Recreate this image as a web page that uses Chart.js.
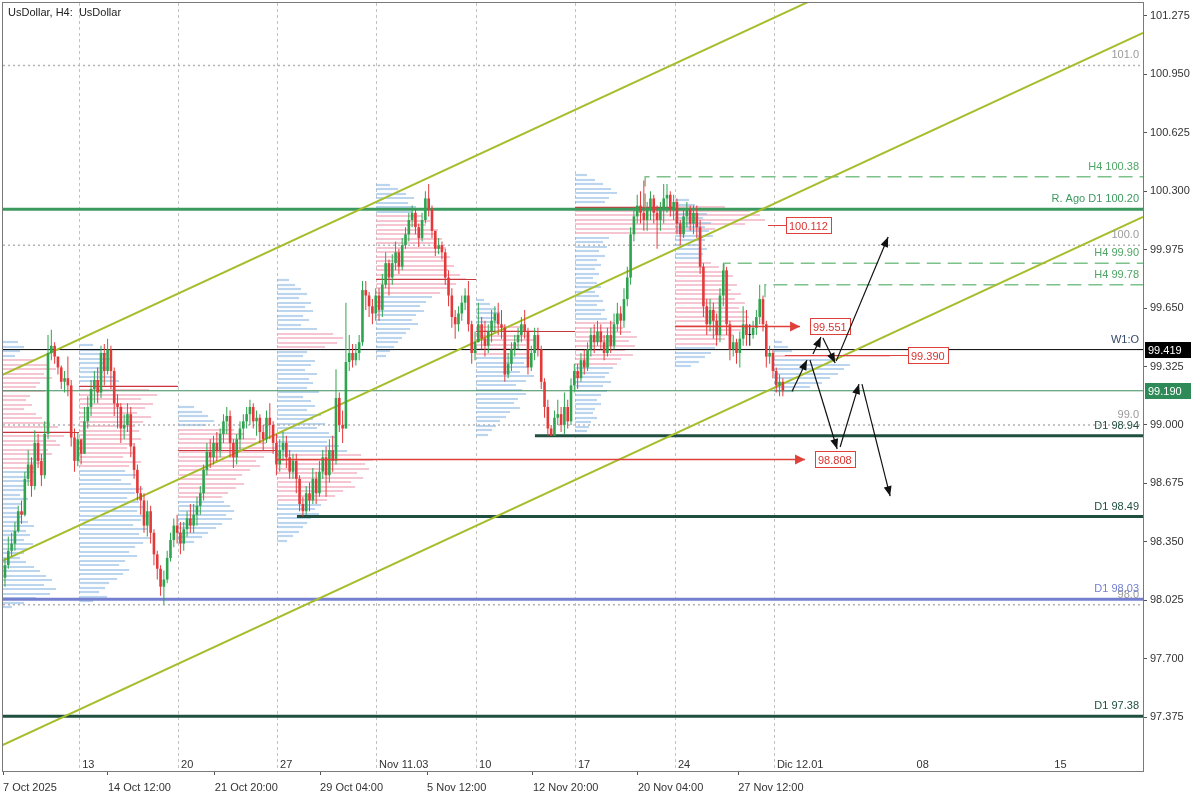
<!DOCTYPE html>
<html>
<head>
<meta charset="utf-8">
<title>UsDollar, H4</title>
<script src="https://cdn.jsdelivr.net/npm/chart.js@4.4.1/dist/chart.umd.min.js"></script>
<style>
  html, body { margin: 0; padding: 0; background: #fff; }
  canvas { display: block; background: #fff; }
</style>
</head>
<body>
<canvas id="chart" width="1200" height="800"></canvas>
<script>
// H4 candles, one entry per bar (open of a bar = close of the one before)
var firstOpen = 98.15;
var closes = [
  98.22, 98.30, 98.34, 98.41, 98.52, 98.50, 98.70, 98.78, 98.66, 98.90,
  98.80, 98.72, 98.95, 99.40, 99.44, 99.38, 99.32, 99.24, 99.26, 99.22,
  98.93, 98.80, 98.92, 98.84, 99.02, 99.10, 99.20, 99.25, 99.18, 99.40,
  99.30, 99.42, 99.30, 99.12, 99.10, 98.98, 99.00, 99.06, 98.88, 98.75,
  98.62, 98.58, 98.44, 98.52, 98.40, 98.28, 98.20, 98.10, 98.14, 98.26,
  98.36, 98.44, 98.40, 98.34, 98.42, 98.48, 98.44, 98.50, 98.55, 98.62,
  98.75, 98.85, 98.82, 98.90, 98.86, 98.95, 99.02, 99.05, 98.90, 98.82,
  98.92, 98.98, 99.02, 99.06, 99.10, 99.02, 99.04, 98.96, 98.92, 99.04,
  99.00, 98.90, 98.78, 98.86, 98.90, 98.82, 98.74, 98.80, 98.70, 98.56,
  98.52, 98.62, 98.58, 98.70, 98.62, 98.74, 98.82, 98.72, 98.86, 98.80,
  99.15, 99.00, 98.98, 99.35, 99.40, 99.36, 99.40, 99.46, 99.75, 99.72,
  99.66, 99.62, 99.72, 99.64, 99.78, 99.90, 99.82, 99.90, 99.96, 99.88,
  100.00, 100.06, 100.14, 100.18, 100.10, 100.04, 100.14, 100.26, 100.20, 100.08,
  99.98, 100.00, 99.96, 99.82, 99.72, 99.60, 99.56, 99.62, 99.68, 99.72,
  99.56, 99.40, 99.46, 99.56, 99.48, 99.44, 99.52, 99.58, 99.62, 99.56,
  99.54, 99.28, 99.34, 99.42, 99.46, 99.50, 99.56, 99.52, 99.32, 99.40,
  99.50, 99.42, 99.24, 99.10, 98.98, 98.94, 99.04, 99.06, 99.00, 99.10,
  99.02, 99.22, 99.30, 99.26, 99.36, 99.32, 99.42, 99.50, 99.46, 99.52,
  99.46, 99.40, 99.50, 99.44, 99.56, 99.62, 99.58, 99.70, 99.82, 100.06,
  100.16, 100.22, 100.18, 100.14, 100.20, 100.26, 100.18, 100.14, 100.20, 100.26,
  100.28, 100.20, 100.24, 100.12, 100.06, 100.16, 100.20, 100.12, 100.18, 100.10,
  99.88, 99.66, 99.56, 99.64, 99.58, 99.50, 99.72, 99.86, 99.56, 99.42,
  99.46, 99.40, 99.48, 99.56, 99.50, 99.50, 99.54, 99.60, 99.70, 99.56,
  99.38, 99.40, 99.30, 99.22, 99.24, 99.19
];
var highs = [
  98.26, 98.38, 98.40, 98.46, 98.55, 98.58, 98.74, 98.86, 98.82, 98.97,
  98.95, 98.84, 99.02, 99.50, 99.53, 99.46, 99.38, 99.33, 99.30, 99.38,
  99.25, 98.98, 98.96, 98.90, 99.10, 99.16, 99.25, 99.30, 99.32, 99.44,
  99.45, 99.48, 99.44, 99.32, 99.17, 99.12, 99.06, 99.12, 99.10, 98.90,
  98.78, 98.66, 98.62, 98.58, 98.55, 98.42, 98.30, 98.22, 98.19, 98.30,
  98.40, 98.48, 98.50, 98.46, 98.46, 98.52, 98.56, 98.56, 98.60, 98.66,
  98.78, 98.90, 98.92, 98.94, 98.96, 98.98, 99.06, 99.10, 99.08, 98.92,
  98.95, 99.02, 99.06, 99.10, 99.14, 99.12, 99.08, 99.06, 99.00, 99.08,
  99.12, 99.02, 98.95, 98.92, 98.96, 98.94, 98.86, 98.84, 98.84, 98.72,
  98.60, 98.66, 98.68, 98.76, 98.74, 98.80, 98.86, 98.88, 98.92, 98.94,
  99.31, 99.18, 99.08, 99.68, 99.50, 99.45, 99.45, 99.50, 99.80, 99.80,
  99.74, 99.70, 99.76, 99.76, 99.84, 99.96, 99.92, 99.95, 100.02, 99.98,
  100.04, 100.10, 100.18, 100.22, 100.20, 100.12, 100.18, 100.30, 100.34, 100.22,
  100.04, 100.04, 100.02, 99.98, 99.86, 99.76, 99.64, 99.66, 99.72, 99.76,
  99.80, 99.58, 99.52, 99.68, 99.60, 99.58, 99.56, 99.64, 99.66, 99.68,
  99.64, 99.56, 99.40, 99.46, 99.50, 99.54, 99.60, 99.64, 99.54, 99.44,
  99.54, 99.54, 99.44, 99.26, 99.14, 99.00, 99.08, 99.14, 99.10, 99.18,
  99.14, 99.26, 99.34, 99.34, 99.40, 99.42, 99.46, 99.54, 99.56, 99.58,
  99.56, 99.50, 99.54, 99.58, 99.62, 99.68, 99.66, 99.76, 99.88, 100.10,
  100.20, 100.28, 100.30, 100.36, 100.24, 100.30, 100.28, 100.22, 100.24, 100.34,
  100.34, 100.30, 100.28, 100.26, 100.14, 100.20, 100.24, 100.22, 100.22, 100.22,
  100.14, 99.90, 99.70, 99.70, 99.68, 99.62, 99.76, 99.90, 99.88, 99.58,
  99.50, 99.48, 99.52, 99.66, 99.64, 99.56, 99.58, 99.64, 99.78, 99.72,
  99.58, 99.44, 99.42, 99.32, 99.28, 99.26
];
var lows = [
  98.10, 98.20, 98.27, 98.30, 98.40, 98.45, 98.49, 98.66, 98.60, 98.64,
  98.76, 98.66, 98.70, 98.92, 99.36, 99.34, 99.28, 99.20, 99.18, 99.16,
  98.88, 98.74, 98.77, 98.78, 98.84, 98.98, 99.05, 99.12, 99.12, 99.15,
  99.22, 99.28, 99.20, 99.05, 98.98, 98.90, 98.92, 98.96, 98.82, 98.70,
  98.58, 98.50, 98.40, 98.38, 98.34, 98.22, 98.14, 98.05, 98.00, 98.12,
  98.24, 98.32, 98.34, 98.28, 98.30, 98.38, 98.40, 98.40, 98.44, 98.50,
  98.58, 98.72, 98.76, 98.78, 98.80, 98.82, 98.90, 98.95, 98.82, 98.76,
  98.78, 98.86, 98.92, 98.98, 99.00, 98.98, 98.94, 98.90, 98.86, 98.90,
  98.92, 98.84, 98.72, 98.74, 98.80, 98.76, 98.70, 98.70, 98.62, 98.52,
  98.49, 98.50, 98.52, 98.56, 98.56, 98.60, 98.70, 98.60, 98.68, 98.74,
  98.78, 98.96, 98.90, 98.98, 99.30, 99.32, 99.33, 99.36, 99.44, 99.64,
  99.60, 99.56, 99.58, 99.58, 99.60, 99.76, 99.72, 99.78, 99.86, 99.84,
  99.86, 99.98, 100.02, 100.10, 100.06, 99.99, 100.02, 100.12, 100.16, 100.04,
  99.94, 99.95, 99.92, 99.78, 99.66, 99.54, 99.48, 99.52, 99.58, 99.64,
  99.52, 99.34, 99.36, 99.46, 99.42, 99.38, 99.40, 99.46, 99.52, 99.50,
  99.48, 99.24, 99.26, 99.30, 99.38, 99.42, 99.46, 99.48, 99.28, 99.30,
  99.36, 99.38, 99.20, 99.04, 98.94, 98.94, 98.94, 99.00, 98.96, 98.95,
  98.98, 99.00, 99.18, 99.20, 99.24, 99.28, 99.30, 99.38, 99.40, 99.44,
  99.42, 99.36, 99.38, 99.40, 99.42, 99.52, 99.50, 99.54, 99.66, 99.78,
  100.02, 100.12, 100.12, 100.08, 100.08, 100.14, 100.12, 99.98, 100.08, 100.12,
  100.18, 100.16, 100.14, 100.06, 100.00, 100.04, 100.10, 100.08, 100.06, 100.04,
  99.84, 99.60, 99.50, 99.52, 99.48, 99.44, 99.46, 99.66, 99.50, 99.36,
  99.38, 99.34, 99.32, 99.44, 99.44, 99.44, 99.48, 99.50, 99.56, 99.52,
  99.32, 99.34, 99.26, 99.18, 99.16, 99.16
];

// axes
var xMin = -0.6, xMax = 343.8;
var yMin = 97.075, yMax = 101.347;
var yTicks = [101.275, 100.950, 100.625, 100.300, 99.975, 99.650, 99.325, 99.000, 98.675, 98.350, 98.025, 97.700, 97.375];
var dateTickIdx = [-0.6, 31.1, 63.4, 95.2, 127.5, 159.5, 191.2, 221.5];
var dateTickLabels = ['7 Oct 2025', '14 Oct 12:00', '21 Oct 20:00', '29 Oct 04:00', '5 Nov 12:00', '12 Nov 20:00', '20 Nov 04:00', '27 Nov 12:00'];
var weekIdx = [22.4, 52.3, 82.2, 112.1, 142.3, 172.2, 202.4, 232.3, 274.5, 316.1];
var weekLabels = ['13', '20', '27', 'Nov 11.03', '10', '17', '24', 'Dic 12.01', '08', '15'];
var weekHasLine = [true, true, true, true, true, true, true, true, false, false];

// horizontal levels
var levelPrices = [101.0, 100.0, 99.0, 98.0, 100.20, 100.38, 99.90, 99.78, 99.419, 99.19, 98.94, 98.49, 98.03, 97.38];
var levelFrom = [xMin, xMin, xMin, xMin, xMin, 193.4, 217.2, 229.6, xMin, xMin, 160.1, 88.2, xMin, xMin];
var levelDrop = [null, null, null, null, null, 100.21, 99.86, 99.71, null, null, null, null, null, null];
var levelKinds = ['round', 'round', 'round', 'round', 'res', 'h4', 'h4', 'h4', 'w1', 'last', 'd1', 'd1', 'd1b', 'd1'];
var levelLabels = ['101.0', '100.0', '99.0', '98.0', 'R. Ago D1 100.20', 'H4 100.38', 'H4 99.90', 'H4 99.78', 'W1:O', '', 'D1 98.94', 'D1 98.49', 'D1 98.03', 'D1 97.38'];

// channel lines [idx, price] -> [idx, price]
var channelStart = [[-1.51, 99.272], [-1.51, 98.237], [-1.51, 97.213]];
var channelEnd = [[343.8, 102.215], [343.8, 101.180], [343.8, 100.157]];

// weekly volume profiles (row step in price, volumes from top row down)
var profileStep = 0.025;
var profileStarts = [-1.5, 22.4, 52.3, 82.2, 112.1, 142.3, 172.2, 202.4, 232.3];
var profileEnds = [22.4, 52.3, 82.2, 112.1, 142.3, 172.2, 202.4, 232.3, 236];
var profileTops = [99.461, 99.444, 99.099, 99.806, 100.335, 99.695, 100.39, 100.251, 99.461];
var profileVols = [
  [18,24,20,15, 34,48,56,44,52,40,36,45,30, 26,32,24,36,42,50,58, 72, 64,56,60,48,52,44,40,36, 34,28,32,24,26,20,28,22,18,26,22, 28,34,26,30,24,33,28,24,20, 26,34,40,46,52,44,56,50,36,24,12],
  [14,22,28,32,26,30,24,34,40, 98, 70,78,62,74,66,58,72,64,56,60,52,62,54, 48,56,44,62,50,46,58,42,52,64,56,48,60, 66,58,70,62,54,68,60,72,64,56,50,58,46,40, 50,44,38,30,26,20,28,14],
  [16,24,30,36,28, 56,66,78,88,100,96,86,78,82,72,64,58,66,58,50,44, 46,52,56,48,54,44,38,30,24,16],
  [12,18,24,30,22,34,28,36,26,32,24,40, 56,66,60,48, 30,26,38,34,28,40,32,36,30,42,26,34,38,30,44,36,48,40, 52,58,50,62,70, 84,96,88,92,80,86,74,78,66,58,50, 44,38,42,34,30,26,22,16,10],
  [14,22,30,38,32,40,36, 46,54,50,62,58,66,60,70,64,74,68,78,72,84,90,80,72,64, 56,50,44,48,40,36,42,34,30,26,22,18,14,10],
  [8,14,20,24,18,22, 48,60,54,58,50,44,52, 56,48,52,44,58,50,40, 46,50,42,38,44,34,30,24,20,16,12],
  [12,20,28,36,42,34,30, 150,175,185,190,170,140,110, 34,28,32,24,30,22,26,20,24,18,22,26,20,24,28,22,30,26,32, 40,48,56,62,54,60,50,58,46,42, 38,34,30,36,28,32,26,22,26,20,18,22,16,14,12,10],
  [14,20,26,32,28,36,30,34,38,30,26,32,28,24, 36,44,52,58,50,62,56,66,60,70,64,72,74,70,82,66,58,50,42, 40,36,30,24,16],
  [8,14,18, 116, 60,76,70,64,56,48,36,20]
];
var profilePink = [
  [[98.74, 99.38]], [[98.76, 99.23]], [[98.59, 98.98]], [[98.58, 98.84], [99.43, 99.52]],
  [[99.73, 100.17]], [[99.39, 99.55]], [[100.05, 100.23], [99.33, 99.57]], [[99.45, 99.91]], [[99.37, 99.40]]
];
var pocPrices = [98.96, 99.215, 98.86, null, 99.81, 99.52, 100.215, null, null];

// red price tags
var tagPrices = [100.112, 99.551, 99.390, 98.808];
var tagFrom = [230.5, 202.4, 235.6, 82.2];
var tagTo = [236.0, 240.2, 272.8, 241.7];
var tagArrow = [false, true, false, true];
var tagLabels = ['100.112', '99.551', '99.390', '98.808'];

// projected path arrows
var pathFrom = [[237.8, 99.188], [244.1, 99.394], [247.1, 99.483], [251.1, 99.355], [243.2, 99.361], [252.3, 98.877], [258.9, 99.227]];
var pathTo = [[242.3, 99.361], [246.5, 99.489], [250.8, 99.344], [266.8, 100.045], [251.4, 98.866], [258.0, 99.227], [267.4, 98.604]];

var badgePrices = [99.419, 99.190];

var FONT = "11px 'Liberation Sans', Arial, sans-serif";
var UP = '#2ea44f', DOWN = '#e3393b', FLAT = '#111';
var levelStyle = {
  round: { color: '#b3b3b3', width: 1.5, dash: [2, 3], text: '#9a9a9a' },
  res: { color: '#3c9a5f', width: 3, dash: [], text: '#3c9a5f' },
  h4: { color: '#7cc28a', width: 1.5, dash: [14, 7], text: '#4fa565' },
  w1: { color: '#000', width: 1, dash: [], text: '#34476a' },
  last: { color: '#3b8c5a', width: 1, dash: [], text: '#3b8c5a' },
  d1: { color: '#1f4f3f', width: 3, dash: [], text: '#1f4f3f' },
  d1b: { color: '#7480cf', width: 3, dash: [], text: '#7480cf' }
};
var badgeColors = ['#000', '#2e8b57'];

var opens = closes.map(function (c, i) { return i === 0 ? firstOpen : closes[i - 1]; });
var barColors = closes.map(function (c, i) {
  if (c > opens[i] + 0.001) return UP;
  if (c < opens[i] - 0.001) return DOWN;
  return FLAT;
});

var datasets = [];
datasets.push({
  type: 'bar', order: 0, grouped: false, barThickness: 2.6, minBarLength: 1, inflateAmount: 0,
  backgroundColor: barColors, borderWidth: 0,
  data: closes.map(function (c, i) { return { x: i, y: [Math.min(opens[i], c), Math.max(opens[i], c)] }; })
});
datasets.push({
  type: 'bar', order: 1, grouped: false, barThickness: 1, inflateAmount: 0,
  backgroundColor: barColors, borderWidth: 0,
  data: closes.map(function (c, i) { return { x: i, y: [lows[i], highs[i]] }; })
});
levelPrices.forEach(function (p, k) {
  var st = levelStyle[levelKinds[k]];
  var pts = [];
  if (levelDrop[k] !== null) pts.push({ x: levelFrom[k], y: levelDrop[k] });
  pts.push({ x: levelFrom[k], y: p });
  pts.push({ x: xMax, y: p });
  datasets.push({
    type: 'line', order: 3, data: pts, borderColor: st.color, borderWidth: st.width,
    borderDash: st.dash, pointRadius: 0, tension: 0, fill: false
  });
});
channelStart.forEach(function (s, k) {
  datasets.push({
    type: 'line', order: 2, borderColor: '#a6bd2c', borderWidth: 2, pointRadius: 0, fill: false,
    data: [{ x: s[0], y: s[1] }, { x: channelEnd[k][0], y: channelEnd[k][1] }]
  });
});

function arrowHead(ctx, x0, y0, x1, y1, len, half) {
  var a = Math.atan2(y1 - y0, x1 - x0);
  var bx = x1 - len * Math.cos(a), by = y1 - len * Math.sin(a);
  ctx.beginPath();
  ctx.moveTo(x1, y1);
  ctx.lineTo(bx + half * Math.sin(a), by - half * Math.cos(a));
  ctx.lineTo(bx - half * Math.sin(a), by + half * Math.cos(a));
  ctx.closePath();
  ctx.fill();
}

var overlay = {
  id: 'overlay',
  beforeDatasetsDraw: function (chart) {
    var ctx = chart.ctx, a = chart.chartArea, x = chart.scales.x, y = chart.scales.y;
    ctx.save();
    ctx.beginPath(); ctx.rect(a.left, a.top, a.right - a.left, a.bottom - a.top); ctx.clip();

    ctx.strokeStyle = '#c2c2c2'; ctx.lineWidth = 1; ctx.setLineDash([3, 3]);
    weekIdx.forEach(function (w, k) {
      if (!weekHasLine[k]) return;
      var px = Math.round(x.getPixelForValue(w)) + 0.5;
      ctx.beginPath(); ctx.moveTo(px, a.top); ctx.lineTo(px, a.bottom); ctx.stroke();
    });
    ctx.setLineDash([]);

    ctx.lineWidth = 2.2;
    profileVols.forEach(function (vols, p) {
      var x0 = x.getPixelForValue(profileStarts[p]);
      vols.forEach(function (v, r) {
        var price = profileTops[p] - r * profileStep;
        var pink = profilePink[p].some(function (rg) { return price >= rg[0] && price <= rg[1]; });
        var py = Math.round(y.getPixelForValue(price));
        ctx.strokeStyle = pink ? 'rgba(238,160,180,0.6)' : 'rgba(130,178,222,0.55)';
        ctx.beginPath(); ctx.moveTo(x0, py); ctx.lineTo(x.getPixelForValue(profileStarts[p] + v / 3.31), py); ctx.stroke();
      });
      if (pocPrices[p] !== null) {
        var pp = Math.round(y.getPixelForValue(pocPrices[p])) + 0.5;
        ctx.strokeStyle = '#c8383a'; ctx.lineWidth = 1;
        ctx.beginPath(); ctx.moveTo(x0, pp); ctx.lineTo(x.getPixelForValue(profileEnds[p]), pp); ctx.stroke();
        ctx.lineWidth = 2.2;
      }
    });
    ctx.restore();
  },
  afterDatasetsDraw: function (chart) {
    var ctx = chart.ctx, a = chart.chartArea, x = chart.scales.x, y = chart.scales.y;
    ctx.save();
    ctx.beginPath(); ctx.rect(a.left, a.top, a.right - a.left, a.bottom - a.top); ctx.clip();
    ctx.font = FONT;

    // level captions
    ctx.textAlign = 'right'; ctx.textBaseline = 'alphabetic';
    levelPrices.forEach(function (p, k) {
      if (!levelLabels[k]) return;
      ctx.fillStyle = levelStyle[levelKinds[k]].text;
      ctx.fillText(levelLabels[k], a.right - 4, y.getPixelForValue(p) - 7);
    });

    // red tags
    ctx.textAlign = 'left'; ctx.textBaseline = 'middle';
    tagPrices.forEach(function (p, k) {
      var py = Math.round(y.getPixelForValue(p)) + 0.5;
      var x0 = x.getPixelForValue(tagFrom[k]), x1 = x.getPixelForValue(tagTo[k]);
      ctx.strokeStyle = '#e0403a'; ctx.fillStyle = '#e0403a'; ctx.lineWidth = tagArrow[k] ? 1.5 : 1;
      ctx.beginPath(); ctx.moveTo(x0, py); ctx.lineTo(x1, py); ctx.stroke();
      var bx = x1;
      if (tagArrow[k]) { arrowHead(ctx, x0, py, x1, py, 10, 5); bx = x1 + 10; }
      var w = Math.round(ctx.measureText(tagLabels[k]).width + 6);
      bx = Math.round(bx);
      ctx.fillStyle = '#fff'; ctx.fillRect(bx, py - 8.5, w, 17);
      ctx.lineWidth = 1; ctx.strokeRect(bx + 0.5, py - 8, w, 16);
      ctx.fillStyle = '#d8342f'; ctx.fillText(tagLabels[k], bx + 3, py + 1);
    });

    // projected path
    ctx.strokeStyle = '#111'; ctx.fillStyle = '#111'; ctx.lineWidth = 1.2;
    pathFrom.forEach(function (s, k) {
      var x0 = x.getPixelForValue(s[0]), y0 = y.getPixelForValue(s[1]);
      var x1 = x.getPixelForValue(pathTo[k][0]), y1 = y.getPixelForValue(pathTo[k][1]);
      ctx.beginPath(); ctx.moveTo(x0, y0); ctx.lineTo(x1, y1); ctx.stroke();
      arrowHead(ctx, x0, y0, x1, y1, 10, 4);
    });

    // week labels along the bottom of the plot
    ctx.fillStyle = '#333'; ctx.textAlign = 'left'; ctx.textBaseline = 'alphabetic';
    weekIdx.forEach(function (w, k) {
      ctx.fillText(weekLabels[k], x.getPixelForValue(w) + 3, a.bottom - 3);
    });
    ctx.restore();
  },
  afterDraw: function (chart) {
    var ctx = chart.ctx, a = chart.chartArea, y = chart.scales.y;
    ctx.save();
    ctx.strokeStyle = '#7a7a7a'; ctx.lineWidth = 1;
    ctx.strokeRect(a.left - 0.5, a.top - 0.5, a.right - a.left + 1, a.bottom - a.top + 1);
    ctx.font = FONT; ctx.textBaseline = 'middle'; ctx.textAlign = 'left';
    badgePrices.forEach(function (p, k) {
      var py = Math.round(y.getPixelForValue(p));
      ctx.fillStyle = badgeColors[k];
      ctx.fillRect(a.right + 2, py - 8, 46, 16);
      ctx.fillStyle = '#fff';
      ctx.fillText(p.toFixed(3), a.right + 5, py + 1);
    });
    ctx.fillStyle = '#222'; ctx.textBaseline = 'alphabetic';
    ctx.fillText('UsDollar, H4:  UsDollar', a.left + 5, a.top + 13);
    ctx.restore();
  }
};

new Chart(document.getElementById('chart'), {
  type: 'bar',
  data: { datasets: datasets },
  options: {
    responsive: false,
    animation: false,
    layout: { padding: { left: 3, top: 3, right: 0, bottom: 0 } },
    plugins: { legend: { display: false }, tooltip: { enabled: false } },
    scales: {
      x: {
        type: 'linear', min: xMin, max: xMax, offset: false,
        afterBuildTicks: function (s) { s.ticks = dateTickIdx.map(function (v) { return { value: v }; }); },
        afterFit: function (s) { s.height = 29; s.paddingLeft = 0; s.paddingRight = 0; },
        ticks: {
          autoSkip: false, maxRotation: 0, minRotation: 0, align: 'start', padding: 6,
          color: '#333', font: { family: "'Liberation Sans', Arial, sans-serif", size: 11 },
          callback: function (v, i) { return dateTickLabels[i]; }
        },
        grid: { drawOnChartArea: false, drawTicks: true, tickLength: 4, color: '#555', offset: false },
        border: { display: false }
      },
      y: {
        type: 'linear', position: 'right', min: yMin, max: yMax,
        afterBuildTicks: function (s) { s.ticks = yTicks.map(function (v) { return { value: v }; }); },
        afterFit: function (s) { s.width = 57; s.paddingTop = 0; s.paddingBottom = 0; },
        ticks: {
          padding: 3, color: '#333', font: { family: "'Liberation Sans', Arial, sans-serif", size: 11 },
          callback: function (v) { return v.toFixed(3); }
        },
        grid: { drawOnChartArea: false, drawTicks: true, tickLength: 4, color: '#555' },
        border: { display: false }
      }
    }
  },
  plugins: [overlay]
});
</script>
</body>
</html>
